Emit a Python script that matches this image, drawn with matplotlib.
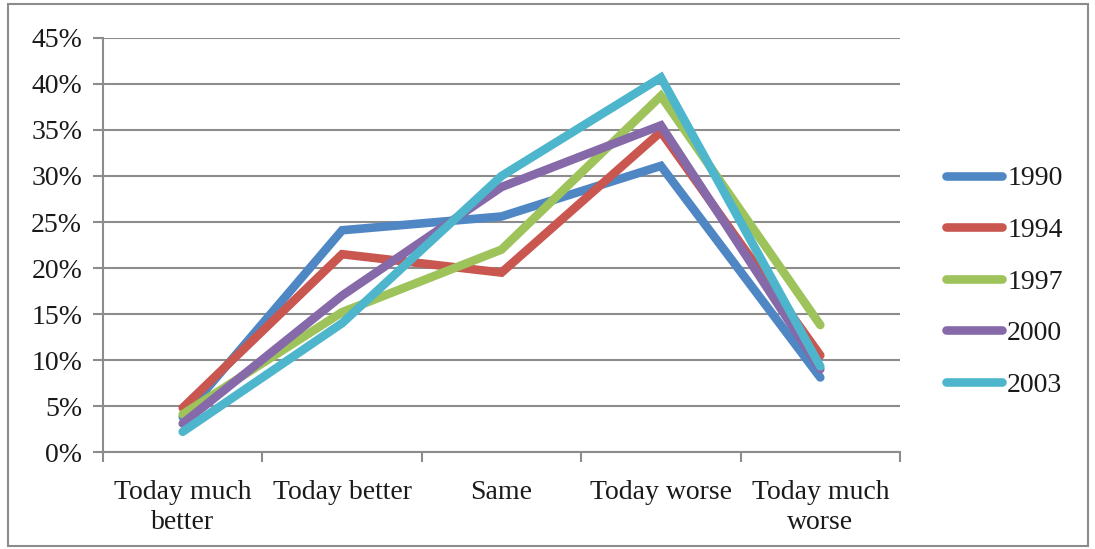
import matplotlib.pyplot as plt
from matplotlib.patches import Rectangle

categories = ['Today much\nbetter', 'Today better', 'Same', 'Today worse', 'Today much\nworse']
years = ['1990', '1994', '1997', '2000', '2003']
s1990 = [3.8, 24.1, 25.6, 31.1, 8.1]
s1994 = [4.8, 21.5, 19.5, 34.8, 10.5]
s1997 = [4.1, 15.2, 22.0, 38.7, 13.8]
s2000 = [3.1, 17.0, 28.8, 35.5, 9.0]
s2003 = [2.2, 14.0, 30.0, 40.7, 9.3]
colors = ['#4F87C4', '#C9564F', '#9DC35A', '#8669A8', '#4DB6CC']

plt.rcParams['font.family'] = ['Liberation Serif', 'DejaVu Serif']

fig = plt.figure(figsize=(10.95, 5.49), dpi=100)
ax = fig.add_axes([103/1095, 1-452/549, (900-103)/1095, (452-38)/549])

x = range(len(categories))
for name, vals, c in zip(years, [s1990, s1994, s1997, s2000, s2003], colors):
    ax.plot(x, vals, color=c, lw=6.2, label=name, solid_capstyle='round', solid_joinstyle='miter')

gc = '#8C8C8C'
tc = '#1a1a1a'
ax.set_xlim(-0.5, 4.5)
ax.set_ylim(0, 45)
ax.set_yticks(range(0, 50, 5))
ax.set_yticklabels([f'{v}%' for v in range(0, 50, 5)], fontsize=20, color=tc)
ax.set_xticks(list(x))
ax.set_xticklabels(categories, fontsize=20, color=tc, linespacing=1.3)
ax.set_xticks([i - 0.5 for i in range(6)], minor=True)
ax.tick_params(axis='x', which='major', length=0, pad=20)
ax.tick_params(axis='x', which='minor', length=7, color=gc, width=1.5, direction='out')
ax.tick_params(axis='y', length=7, color=gc, width=1.5, pad=8)
ax.grid(axis='y', color=gc, lw=1.5)
ax.set_axisbelow(True)
for s in ['top', 'right']:
    ax.spines[s].set_visible(False)
for s in ['left', 'bottom']:
    ax.spines[s].set_color(gc)
    ax.spines[s].set_linewidth(1.5)

leg = fig.legend(loc='upper left', bbox_to_anchor=(946/1095, 1-166/549), frameon=False,
                 fontsize=20, handlelength=2.0, handletextpad=0.2, labelspacing=0.94,
                 borderpad=0, borderaxespad=0, labelcolor=tc)
for ln in leg.get_lines():
    ln.set_linewidth(6.2)

fig.patches.append(Rectangle((8/1095, 3/549), 1080/1095, 542/549, transform=fig.transFigure,
                             fill=False, edgecolor='#8C8C8C', lw=1.5))

fig.savefig('out.png', dpi=100)
